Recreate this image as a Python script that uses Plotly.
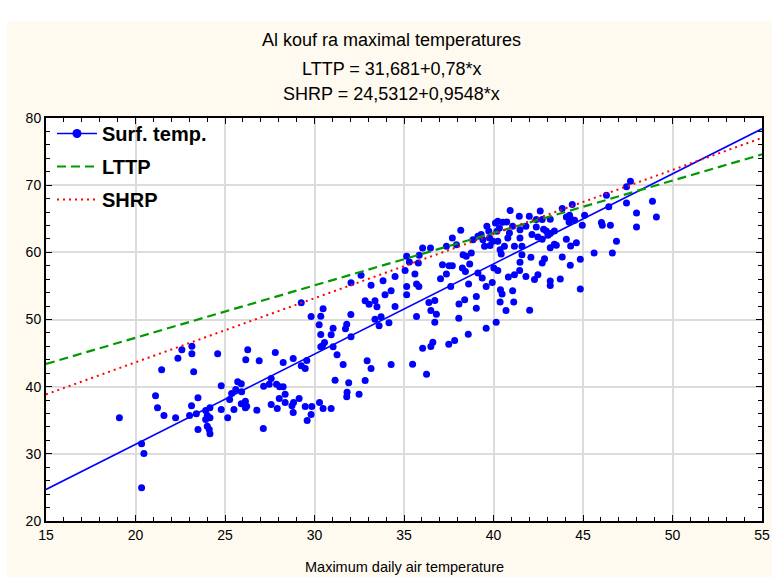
import plotly.graph_objects as go

# ---- data ----
surf_x = [19.10,20.34,20.47,20.34,21.12,21.23,21.59,21.46,22.24,22.37,22.59,23.15,23.15,23.25,23.13,23.49,23.02,23.40,23.49,23.92,
          24.16,24.01,24.16,23.92,24.01,24.12,24.16,24.59,24.79,24.79,25.15,25.26,25.37,25.50,25.60,25.71,25.91,25.93,25.91,26.14,
          26.21,26.14,26.27,26.16,
          26.91,26.78,27.81,27.14,27.16,27.47,27.58,27.88,28.05,28.25,28.25,28.36,28.03,27.58,27.92,28.36,28.74,28.83,28.81,29.14,
          28.81,29.26,29.48,29.57,29.48,29.85,29.81,29.59,29.26,29.81,30.28,30.48,30.93,30.35,30.48,30.26,31.04,30.93,30.35,30.56,
          30.45,30.35,31.04,31.26,31.15,31.60,31.80,31.82,31.91,32.49,32.83,32.94,33.16,34.28,31.73,31.80,32.04,32.03,32.04,32.60,
          32.83,33.05,33.16,33.38,33.49,33.38,33.61,33.72,33.83,33.94,34.28,34.16,
          34.50,34.50,35.15,35.30,35.06,35.61,35.80,35.85,36.04,36.48,35.15,35.15,35.70,35.83,35.70,36.39,36.72,36.50,36.81,36.72,
          36.04,36.50,36.61,35.48,36.26,37.04,37.15,37.37,37.52,37.70,37.61,37.70,38.17,37.93,37.37,38.07,38.39,38.06,37.83,37.50,
          38.59,38.30,38.48,38.76,38.26,38.43,38.67,38.61,39.04,39.04,39.13,39.37,39.59,39.93,39.59,40.15,40.02,40.24,40.39,40.48,
          40.37,40.70,40.83,41.07,41.13,41.17,41.46,41.48,41.59,41.81,42.02,42.09,
          38.85,39.13,39.31,39.41,39.50,39.63,39.74,39.78,39.81,39.96,40.11,40.24,40.19,40.33,40.24,40.37,40.43,40.52,40.74,40.61,
          40.80,40.89,40.93,41.07,41.44,41.48,41.48,41.59,41.81,42.00,42.15,41.17,
          42.61,42.39,42.72,43.17,42.39,42.80,42.95,43.17,43.40,43.04,42.72,42.48,43.17,43.40,43.51,43.84,44.40,44.07,44.25,44.35,
          44.53,44.22,44.07,44.31,44.63,44.96,45.09,46.03,46.08,46.53,46.44,46.31,47.43,47.43,47.65,47.99,47.99,48.88,49.10,46.87,
          45.62,46.64,44.85,44.29,43.84,42.85,42.72,42.48,42.29,43.17,43.17,43.73,44.85]
surf_y = [35.36,31.49,30.05,24.94,38.64,36.85,35.71,42.51,35.36,44.24,45.48,46.03,44.89,42.21,37.15,38.34,35.71,35.96,33.62,36.45,
          36.85,35.71,35.36,35.11,34.12,33.62,32.98,44.89,40.12,36.60,35.36,38.09,38.98,36.60,39.58,40.72,40.42,39.23,37.44,37.84,
          37.10,36.85,45.48,44.00,
          43.85,36.50,45.09,33.77,40.07,40.37,41.22,40.37,39.98,39.98,43.60,38.88,38.24,37.34,36.75,37.64,37.15,37.64,36.15,38.24,
          44.19,43.10,42.70,43.90,37.05,37.05,35.86,34.96,52.48,50.45,37.64,36.75,36.75,50.50,51.59,49.21,48.71,47.72,47.77,46.58,
          46.08,45.93,45.93,44.74,40.97,43.30,38.49,39.18,40.57,38.88,40.92,43.85,42.70,43.30,48.61,49.31,47.42,50.74,55.46,56.60,
          52.78,52.28,55.11,52.78,51.89,50.05,49.06,50.40,55.76,53.67,54.27,49.50,
          56.42,51.94,59.40,58.56,57.31,56.77,58.41,59.55,60.65,60.65,54.93,53.68,55.27,54.93,50.45,52.54,52.84,51.34,50.80,49.60,
          45.72,45.97,46.62,43.33,41.84,56.07,58.16,56.77,58.01,58.01,54.93,62.14,63.28,61.14,60.90,52.29,52.94,50.20,46.87,46.32,
          47.81,59.65,59.40,59.90,57.66,57.16,58.26,55.27,53.43,51.69,56.92,56.17,54.93,55.52,48.71,49.60,57.66,57.31,54.43,53.78,
          52.59,51.34,56.32,54.28,52.59,56.67,57.31,58.51,59.65,56.42,51.39,59.25,
          61.89,62.39,62.64,61.89,60.90,63.88,63.13,62.14,61.00,61.64,64.38,64.63,63.13,63.63,61.64,60.40,59.75,64.48,64.53,60.90,
          62.14,62.89,66.22,63.88,65.37,63.38,62.14,60.90,63.88,65.37,62.64,60.90,
          66.17,64.88,64.88,64.93,63.78,63.43,63.18,62.79,63.18,62.54,61.94,62.29,60.70,61.19,61.04,66.52,67.11,65.27,65.52,64.88,
          64.78,64.53,61.94,60.95,61.44,64.03,65.52,64.43,64.03,64.03,66.77,68.51,67.36,69.75,70.60,65.87,63.78,67.61,65.27,61.64,
          59.90,59.90,58.96,58.06,59.30,59.05,58.41,56.67,55.97,55.72,55.07,56.02,54.53]

fit_x = [15, 55]
fit_y = [24.7, 78.4]
lttp_x = [15, 55]
lttp_y = [43.38, 74.58]
shrp_x = [15, 55]
shrp_y = [38.85, 77.04]

x_ticks = [15, 20, 25, 30, 35, 40, 45, 50, 55]
y_ticks = [20, 30, 40, 50, 60, 70, 80]
title_lines = ["Al kouf ra maximal temperatures", "LTTP = 31,681+0,78*x", "SHRP = 24,5312+0,9548*x"]
x_title = "Maximum daily air temperature"

FONT = "Liberation Sans, Arial, sans-serif"
CREAM = "#FFFAEF"

fig = go.Figure()
fig.add_trace(go.Scatter(x=fit_x, y=fit_y, mode="lines", line=dict(color="#0000FF", width=1.6),
                         showlegend=False, hoverinfo="skip"))
fig.add_trace(go.Scatter(x=surf_x, y=surf_y, mode="markers",
                         marker=dict(color="#0000FF", size=7, line=dict(width=0)),
                         showlegend=False))
fig.add_trace(go.Scatter(x=lttp_x, y=lttp_y, mode="lines", name="LTTP", legendgroup="b", legendrank=2,
                         line=dict(color="#009A00", width=2.2, dash="9px,5px")))
fig.add_trace(go.Scatter(x=shrp_x, y=shrp_y, mode="lines", name="SHRP", legendgroup="c", legendrank=3,
                         line=dict(color="#FF0000", width=2, dash="2px,4px")))
fig.add_trace(go.Scatter(x=[None], y=[None], mode="lines+markers", name="Surf. temp.", legendgroup="a",
                         line=dict(color="#0000FF", width=1.6),
                         marker=dict(color="#0000FF", size=9), legendrank=1))

L, R, T, B = 46, 10, 118, 56
W, H = 772, 577
pw, ph = W - L - R, H - T - B

def px2x(px):
    return (px - L) / pw

def py2y(py):
    return (H - B - py) / ph

shapes = [
    dict(type="rect", xref="paper", yref="paper", x0=px2x(7), x1=px2x(775), y0=py2y(580), y1=py2y(21),
         fillcolor=CREAM, line=dict(width=0), layer="below"),
    dict(type="rect", xref="paper", yref="paper", x0=0, x1=1, y0=0, y1=1,
         fillcolor="white", line=dict(width=0), layer="below"),
]

annotations = []
for txt, cy in zip(title_lines, [40, 69, 94]):
    annotations.append(dict(text=txt, xref="paper", yref="paper", x=px2x(391), y=py2y(cy),
                            xanchor="center", yanchor="middle", showarrow=False,
                            font=dict(family=FONT, size=18, color="black")))
annotations.append(dict(text=x_title, xref="paper", yref="paper", x=px2x(404), y=py2y(567),
                        xanchor="center", yanchor="middle", showarrow=False,
                        font=dict(family=FONT, size=14.5, color="black")))

axis_common = dict(showline=True, linewidth=2, linecolor="black", mirror="ticks",
                   ticks="inside", ticklen=6, tickwidth=1, tickcolor="black",
                   showgrid=True, gridcolor="#DCDCDC", gridwidth=1.5, zeroline=False,
                   automargin=False,
                   tickfont=dict(family=FONT, size=14, color="black"))

fig.update_layout(
    width=W, height=H, autosize=False,
    margin=dict(l=L, r=R, t=T, b=B, autoexpand=False),
    paper_bgcolor="white", plot_bgcolor="white",
    shapes=shapes, annotations=annotations,
    xaxis=dict(range=[15, 55], tickvals=x_ticks, ticktext=[str(v) for v in x_ticks],
               minor=dict(dtick=1, ticks="inside", ticklen=4, tickcolor="black", showgrid=False),
               **axis_common),
    yaxis=dict(range=[20, 80], tickvals=y_ticks, ticktext=[str(v) for v in y_ticks],
               minor=dict(dtick=2, ticks="inside", ticklen=4, tickcolor="black", showgrid=False),
               **axis_common),
    legend=dict(x=px2x(52), y=py2y(114), xanchor="left", yanchor="top",
                bgcolor="rgba(0,0,0,0)", borderwidth=0, traceorder="grouped", tracegroupgap=4,
                font=dict(family=FONT, size=20, color="black", weight="bold"), itemwidth=40),
    showlegend=True,
)

fig.write_html("out.html", config={"displayModeBar": False, "responsive": False},
               post_script="document.body.style.margin='0px';document.body.style.overflow='hidden';")
